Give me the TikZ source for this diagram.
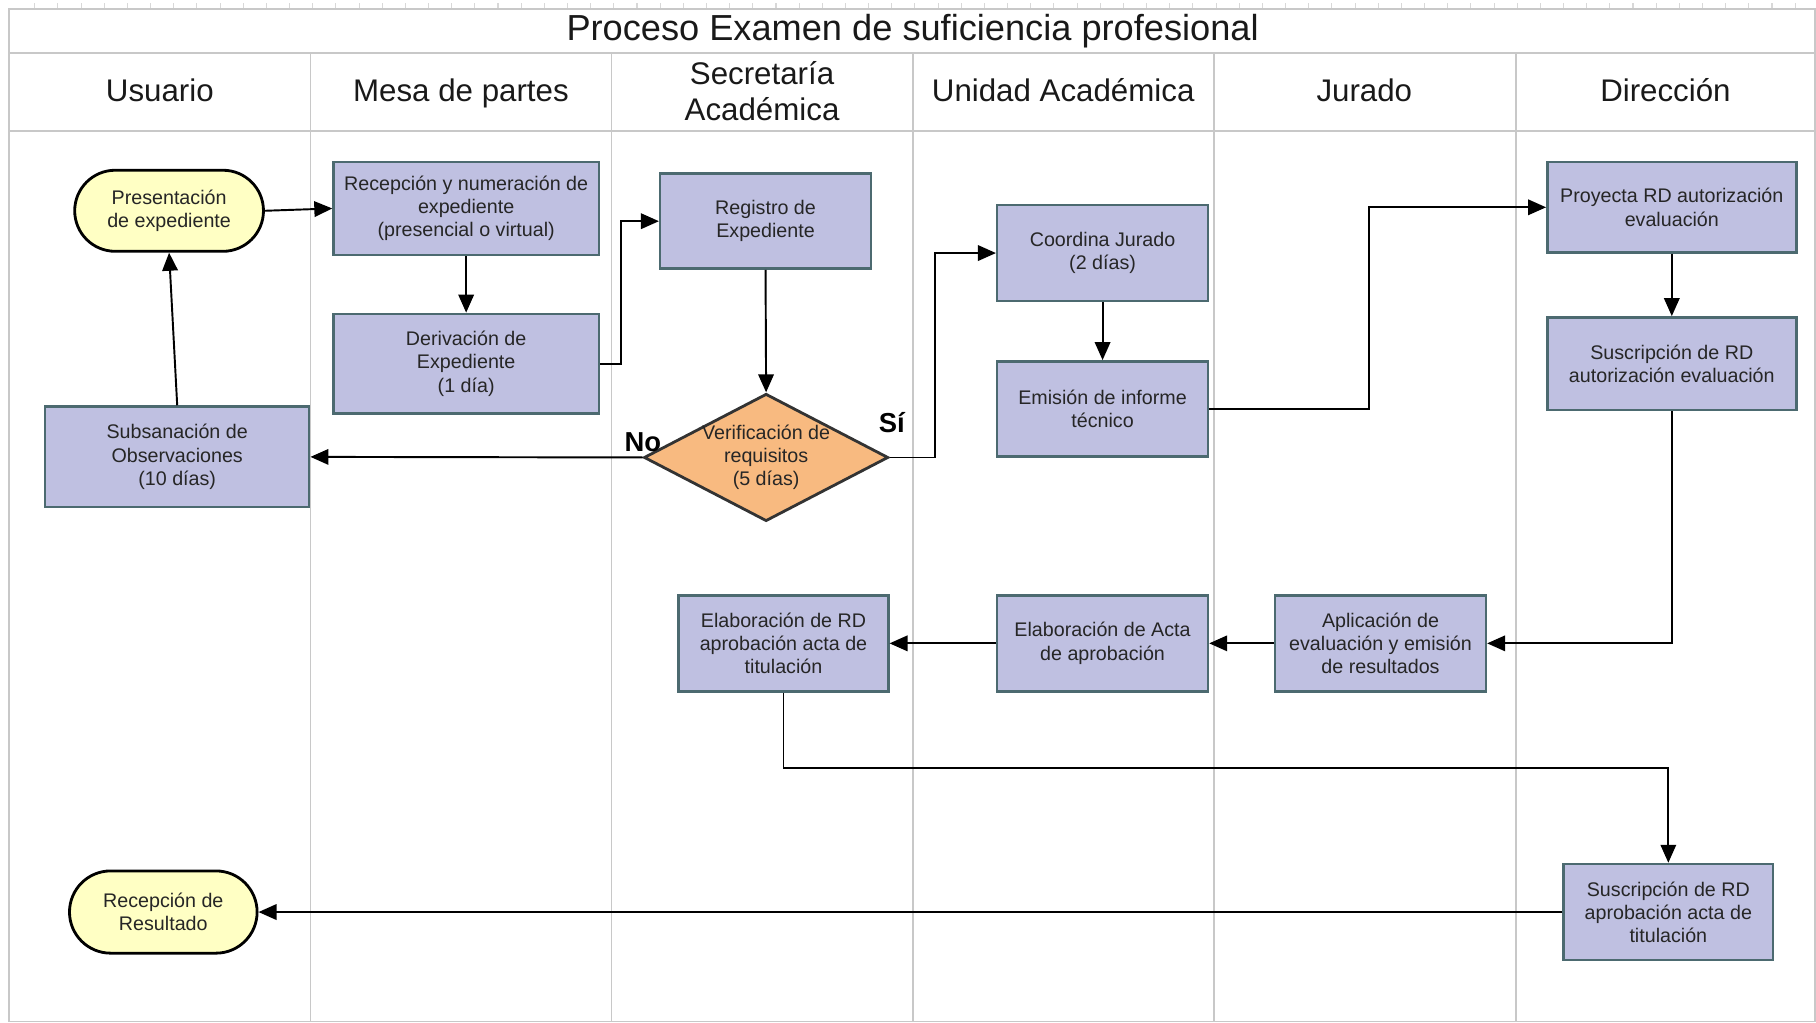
\documentclass[tikz,border=0pt]{standalone}
\usepackage{fontspec}
\setmainfont{Liberation Sans}
\usetikzlibrary{arrows.meta,shapes.geometric,shapes.misc}

\definecolor{taskfill}{RGB}{191,192,225}
\definecolor{taskline}{RGB}{76,106,112}
\definecolor{termfill}{RGB}{255,255,196}
\definecolor{decfill}{RGB}{248,186,128}
\definecolor{lanegray}{RGB}{200,200,200}

\newdimen\pxu
\pxu=0.115816mm

\tikzset{
  sz/.style 2 args={minimum width=#1*\pxu, minimum height=#2*\pxu},
  boxtext/.style={font=\fontsize{5.6}{6.6}\selectfont, align=center, text=black!85},
  task/.style={boxtext, draw=taskline, line width=0.7pt, fill=taskfill, inner sep=0pt},
  terminal/.style={boxtext, rounded rectangle, draw=black, line width=0.8pt, fill=termfill, inner sep=0pt},
  decision/.style={diamond, draw=black!80, line width=0.8pt, fill=decfill, inner sep=0pt},
  lane/.style={draw=lanegray, line width=0.5pt},
  lanehead/.style={font=\fontsize{8.9}{10.2}\selectfont, align=center, text=black!90},
  flow/.style={draw=black, line width=0.55pt, -{Triangle[length=1.8mm,width=1.55mm]}},
  branch/.style={font=\bfseries\fontsize{7.8}{9}\selectfont}
}

\begin{document}
\begin{tikzpicture}[x=0.115816mm, y=-0.115816mm]
\useasboundingbox (0,0) rectangle (1568,883);

% ruler ticks above the frame
\foreach \t in {30,50,...,1560}
  \draw[lanegray!70, line width=0.3pt] (\t,3) -- (\t,8);

% pool frame, title band, header row and lanes
\draw[lane] (8,8) rectangle (1567,882);
\draw[lane] (8,46) -- (1567,46);
\draw[lane] (8,113) -- (1567,113);
\foreach \lx in {268,528,788,1048,1309}
  \draw[lane] (\lx,46) -- (\lx,882);

\node[font=\fontsize{10.3}{12}\selectfont, text=black!90, anchor=base] (title) at (788,35) {Proceso Examen de suficiencia profesional};
\node[lanehead, anchor=base] (h1) at (138,88) {Usuario};
\node[lanehead, anchor=base] (h2) at (398,88) {Mesa de partes};
\node[lanehead] (h3) at (658,79) {Secretaría\\Académica};
\node[lanehead, anchor=base] (h4) at (918,88) {Unidad Académica};
\node[lanehead, anchor=base] (h5) at (1178,88) {Jurado};
\node[lanehead, anchor=base] (h6) at (1438,88) {Dirección};

% activities
\node[terminal, sz={163}{70}] (pres) at (146,182) {Presentación\\de expediente};
\node[task, sz={229}{80}] (recep) at (402.5,180) {Recepción y numeración de\\expediente\\(presencial o virtual)};
\node[task, sz={229}{86}] (deriv) at (402.5,314) {Derivación de\\Expediente\\(1 día)};
\node[task, sz={182}{82}] (regis) at (661,191) {Registro de\\Expediente};
\node[decision, sz={211}{110}] (verif) at (661.5,395) {};
\node[boxtext] (veriftxt) at (verif.center) {Verificación de\\requisitos\\(5 días)};
\node[task, sz={228}{87}] (subsa) at (153,394.5) {Subsanación de\\Observaciones\\(10 días)};
\node[task, sz={182}{83}] (coord) at (952,218.5) {Coordina Jurado\\(2 días)};
\node[task, sz={182}{82}] (emisi) at (952,353) {Emisión de informe\\técnico};
\node[task, sz={215}{78}] (proye) at (1443.5,179) {Proyecta RD autorización\\evaluación};
\node[task, sz={215}{80}] (susau) at (1443.5,314) {Suscripción de RD\\autorización evaluación};
\node[task, sz={182}{83}] (aplic) at (1192,555.5) {Aplicación de\\evaluación y emisión\\de resultados};
\node[task, sz={182}{83}] (elact) at (952,555.5) {Elaboración de Acta\\de aprobación};
\node[task, sz={181}{83}] (elrd) at (676.5,555.5) {Elaboración de RD\\aprobación acta de\\titulación};
\node[task, sz={181}{83}] (susap) at (1440.5,787.5) {Suscripción de RD\\aprobación acta de\\titulación};
\node[terminal, sz={162}{71}] (resul) at (141,787.5) {Recepción de\\Resultado};

% sequence flows
\draw[flow] (pres.east) -- (recep.west);
\draw[flow] (recep.south) -- (deriv.north);
\draw[flow] (deriv.east) -- ++(18,0) |- (regis.west);
\draw[flow] (regis.south) -- (verif.north);
\draw[flow] (verif.west) -- (subsa.east);
\draw[flow] (verif.east) -- ++(39,0) |- (coord.west);
\draw[flow] (subsa.north) -- (pres.south);
\draw[flow] (coord.south) -- (emisi.north);
\draw[flow] (emisi.east) -- ++(138,0) |- (proye.west);
\draw[flow] (proye.south) -- (susau.north);
\draw[flow] (susau.south) |- (aplic.east);
\draw[flow] (aplic.west) -- (elact.east);
\draw[flow] (elact.west) -- (elrd.east);
\draw[flow] (elrd.south) -- ++(0,65) -| (susap.north);
\draw[flow] (susap.west) -- (resul.east);

% decision outcomes
\node[branch] (no) at (555,382) {No};
\node[branch] (si) at (770,365) {Sí};
\end{tikzpicture}
\end{document}
